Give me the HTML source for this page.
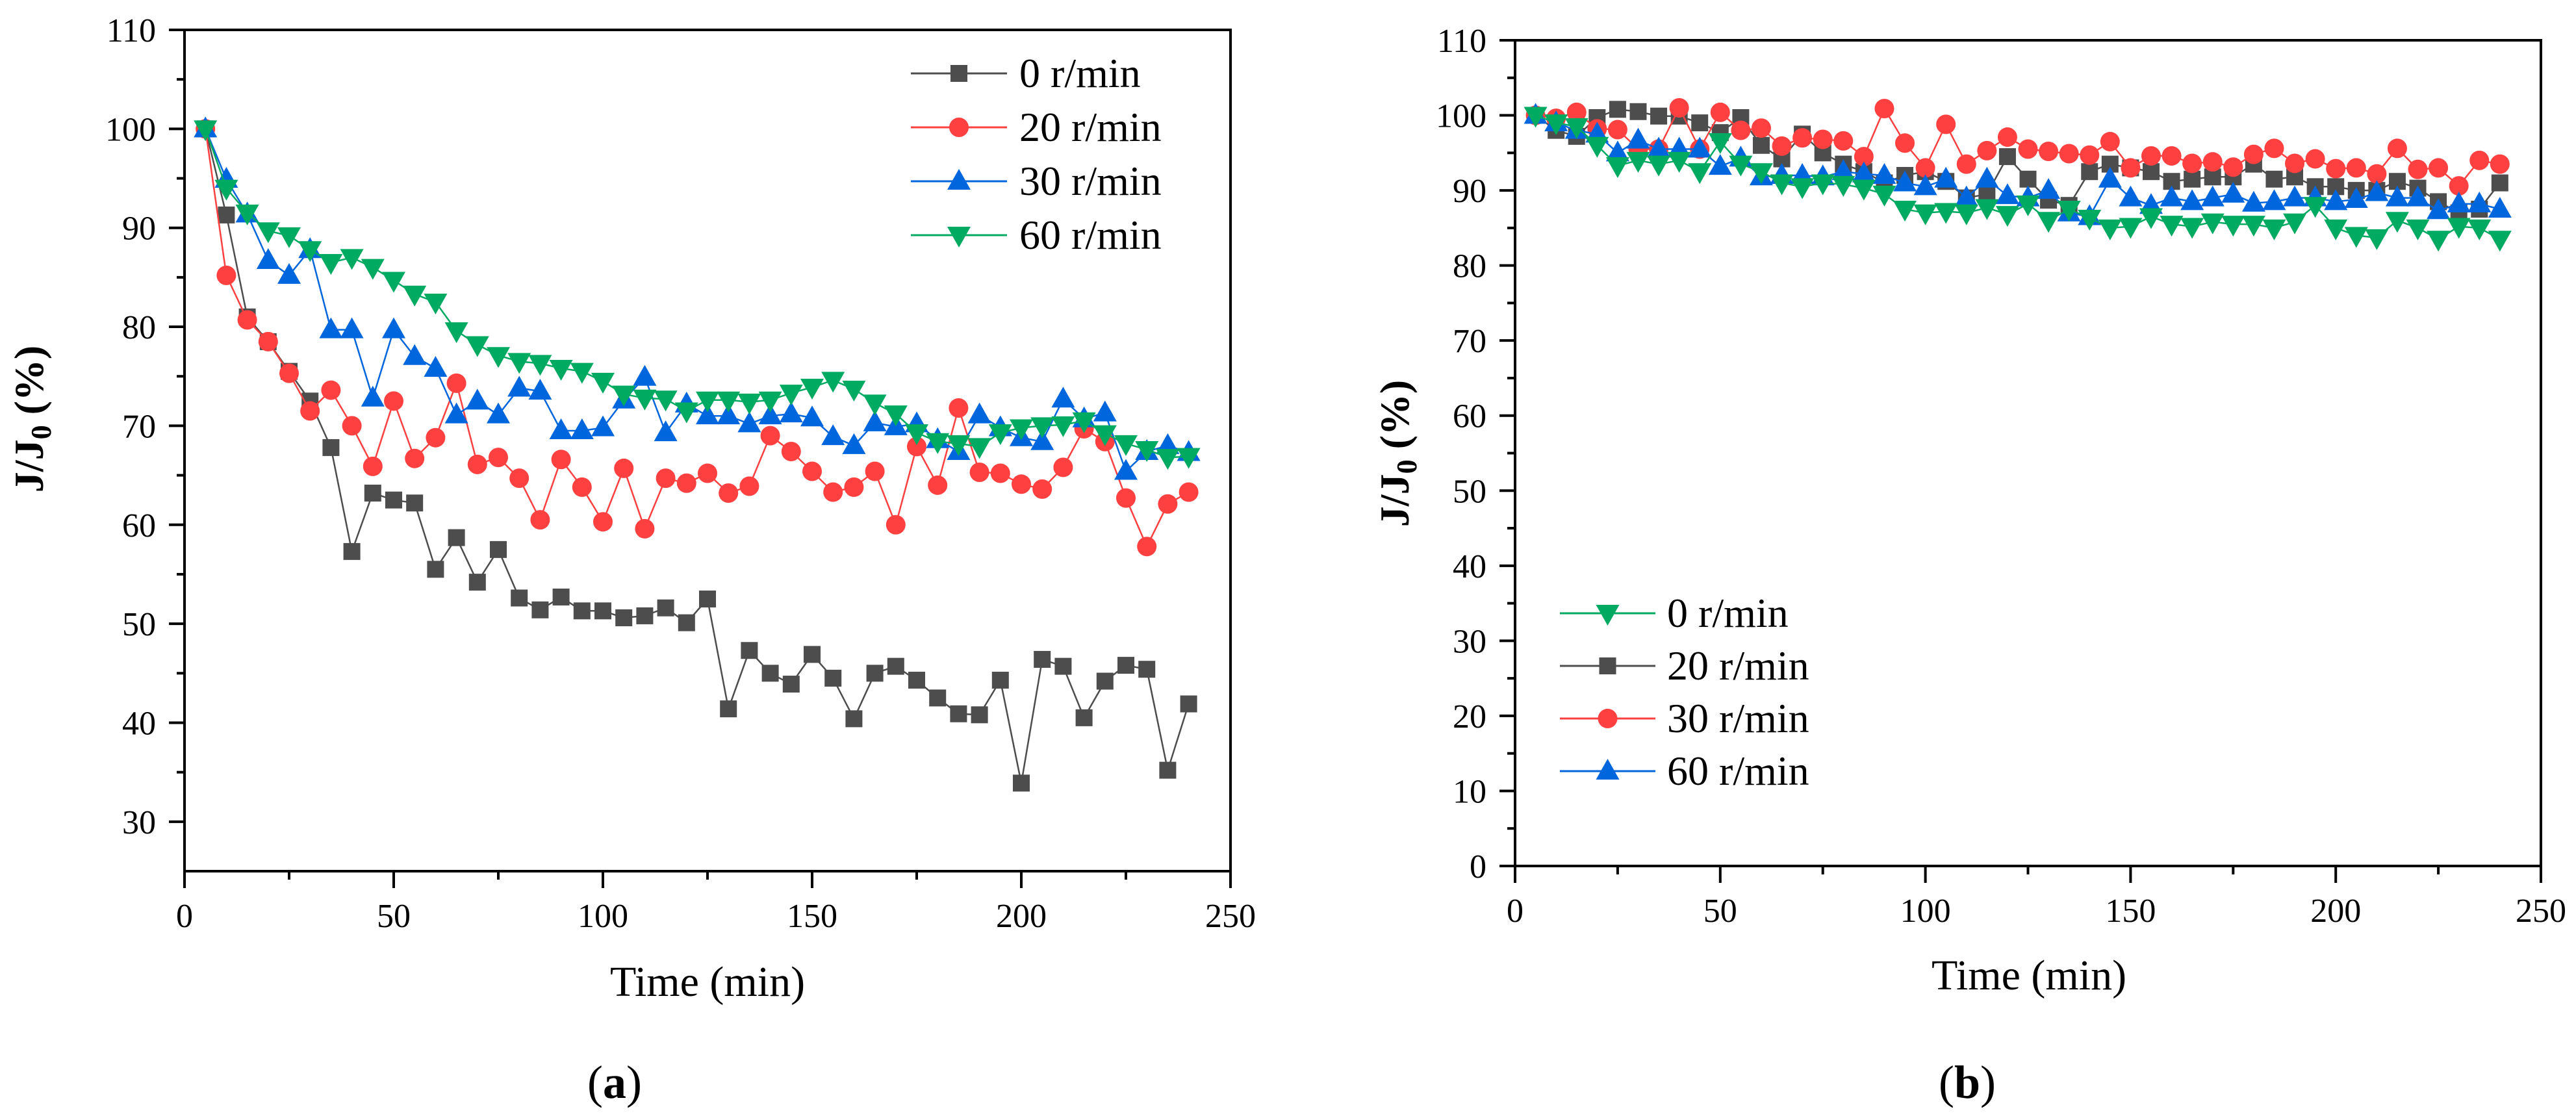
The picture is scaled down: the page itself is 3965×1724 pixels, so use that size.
<!DOCTYPE html>
<html><head><meta charset="utf-8"><style>
body{margin:0;background:#fff}
svg{display:block}
text{font-family:"Liberation Serif",serif;fill:#000}
</style></head><body>
<svg id="chart" width="3965" height="1724" viewBox="0 0 3965 1724" xmlns="http://www.w3.org/2000/svg"></svg>
<script>
const times = [];
for (let t = 5; t <= 240; t += 5) times.push(t);

const a0 = [100,91.3,81,78.5,75.5,72.5,67.8,57.3,63.2,62.5,62.2,55.5,58.7,54.2,57.5,52.6,51.4,52.7,51.3,51.3,50.6,50.8,51.6,50.1,52.5,41.4,47.3,45,43.9,46.9,44.5,40.4,45,45.7,44.3,42.5,40.9,40.8,44.3,33.9,46.4,45.7,40.5,44.2,45.8,45.4,35.2,41.9];
const a20 = [100,85.2,80.7,78.5,75.3,71.5,73.6,70,65.9,72.5,66.7,68.8,74.3,66.1,66.8,64.7,60.5,66.6,63.8,60.3,65.7,59.6,64.7,64.2,65.2,63.2,63.9,69,67.4,65.4,63.3,63.8,65.4,60,67.9,64,71.8,65.3,65.2,64.1,63.6,65.8,69.7,68.4,62.7,57.8,62.1,63.3];
const a30 = [100,94.9,91.4,86.7,85.2,87.8,79.7,79.7,72.8,79.7,77,75.8,71.1,72.5,71.1,73.8,73.5,69.5,69.5,69.8,72.6,74.9,69.3,72.2,71,71,70.2,71,71.2,70.8,68.9,68,70.3,69.9,70.2,68.6,67.4,71.1,69.8,68.8,68.4,72.7,70.7,71.3,65.4,67.4,68,67.3];
const a60 = [100,94,91.5,89.7,89.2,87.8,86.5,87,86,84.7,83.3,82.5,79.6,78.2,77.1,76.5,76.3,75.8,75.5,74.5,73.2,72.8,72.7,71.5,72.6,72.6,72.4,72.6,73.3,73.9,74.6,73.7,72.3,71.2,69.3,68.4,68.2,67.9,69.3,69.8,70,70.1,70.5,69.2,68.2,67.6,66.8,66.9];

const b0 = [100,99,98.5,96,93.3,94,93.5,94,92.5,96.5,93.5,92.5,91,90.5,91,90.8,90.3,89.5,87.5,87,87.2,87,87.7,86.8,88.2,86,87.5,86.3,85,85.2,86.5,85.5,85.2,85.8,85.5,85.5,85,85.8,88,85,84,83.7,86,85,83.5,85.2,85,83.5];
const b20 = [100,98,97.2,99.7,100.8,100.5,99.9,99.9,99,97.7,99.7,96,94.2,97.5,95,93.5,92.5,91,92,92.5,91.2,89,89.5,94.5,91.5,88.7,88,92.5,93.5,93,92.5,91.2,91.5,91.8,91.8,93.5,91.5,91.8,90.5,90.5,90,90,91.2,90.3,88.5,87,87.5,91];
const b30 = [100,99.6,100.4,98.2,98.1,95.5,95.5,101,95.5,100.4,98,98.3,95.9,97,96.8,96.6,94.5,100.9,96.3,93,98.8,93.5,95.3,97.1,95.5,95.2,94.9,94.7,96.5,93,94.6,94.6,93.6,93.8,93.1,94.8,95.6,93.6,94.2,92.9,93,92.2,95.6,92.8,93,90.6,94,93.5];
const b60 = [100,99,98,97.5,95,96.7,95.5,95.5,95.5,93.2,94.3,91.8,92,92,91.8,92.5,92.2,92,91,90.5,91.5,89,91.5,89.3,89,90,87,86.5,91.5,89,88,89,88.5,89,89.5,88.3,88.5,89,89,88.5,88.8,89.7,89,89,87.3,88.2,88.2,87.5];

const xTicksA = [0,50,100,150,200,250];
const yTicksA = [30,40,50,60,70,80,90,100,110];
const yTicksB = [0,10,20,30,40,50,60,70,80,90,100,110];
const labelsA = ["0 r/min","20 r/min","30 r/min","60 r/min"];
const labelsB = ["0 r/min","20 r/min","30 r/min","60 r/min"];

const NS = "http://www.w3.org/2000/svg";
const svg = document.getElementById('chart');
const COL = {k:'#4d4d4d', r:'#ff4040', b:'#0066dd', g:'#00aa60'};

function mk(tag, attrs, parent){
  const e = document.createElementNS(NS, tag);
  for (const k in attrs) e.setAttribute(k, attrs[k]);
  (parent||svg).appendChild(e);
  return e;
}
function marker(g, shape, cx, cy, color){
  let e;
  if (shape==='sq'){ e = mk('rect',{x:cx-13,y:cy-13,width:26,height:26,fill:color},g); }
  else if (shape==='ci'){ e = mk('circle',{cx:cx,cy:cy,r:15,fill:color},g); }
  else if (shape==='up'){ e = mk('polygon',{points:`${cx},${cy-19} ${cx-18},${cy+13} ${cx+18},${cy+13}`,fill:color},g); }
  else { e = mk('polygon',{points:`${cx},${cy+19} ${cx-18},${cy-13} ${cx+18},${cy-13}`,fill:color},g); }
  return e;
}

function panel(cfg){
  const {L,R,T,B,xmin,xmax,ymin,ymax,yTicks,yMinor,series,legend,name} = cfg;
  const X = v => L + (v - xmin)/(xmax - xmin)*(R - L);
  const Y = v => B - (v - ymin)/(ymax - ymin)*(B - T);
  const g = mk('g',{});
  
  
  // series
  series.forEach(s => {
    const sg = mk('g',{},g);
    
    
    const pts = times.map((t,i)=>X(t).toFixed(1)+','+Y(s.vals[i]).toFixed(1)).join(' ');
    const pl = mk('polyline',{points:pts,fill:'none',stroke:s.color,'stroke-width':2.5},sg);
    
    
    times.forEach((t,i)=>{
      const m = marker(sg, s.shape, X(t), Y(s.vals[i]), s.color);
      
      
    });
  });
  // frame
  const fr = mk('rect',{x:L,y:T,width:R-L,height:B-T,fill:'none',stroke:'#000','stroke-width':4},g);
  
  
  // x ticks
  xTicksA.forEach(v=>{
    mk('line',{x1:X(v),y1:B,x2:X(v),y2:B+26,stroke:'#000','stroke-width':4},g);
    const tx = mk('text',{x:X(v),y:B+86,'font-size':52,'text-anchor':'middle'},g);
    tx.textContent = v;
    
    
  });
  for (let v=25; v<xmax; v+=50) mk('line',{x1:X(v),y1:B,x2:X(v),y2:B+13,stroke:'#000','stroke-width':4},g);
  // y ticks
  yTicks.forEach(v=>{
    mk('line',{x1:L-24,y1:Y(v),x2:L,y2:Y(v),stroke:'#000','stroke-width':4},g);
    const tx = mk('text',{x:L-44,y:Y(v)+18,'font-size':52,'text-anchor':'end'},g);
    tx.textContent = v;
    
    
  });
  yMinor.forEach(v=> mk('line',{x1:L-12,y1:Y(v),x2:L,y2:Y(v),stroke:'#000','stroke-width':4},g));
  // legend
  legend.items.forEach((it,i)=>{
    const lg = mk('g',{},g);
    
    
    const yy = legend.y0 + i*legend.dy;
    mk('line',{x1:legend.x1,y1:yy,x2:legend.x2,y2:yy,stroke:it.color,'stroke-width':3},lg);
    marker(lg, it.shape, (legend.x1+legend.x2)/2, yy, it.color);
    const tx = mk('text',{x:legend.tx,y:yy+21,'font-size':64},lg);
    tx.textContent = it.label;
  });
  return {X,Y};
}

const yMinorA=[]; for(let v=35; v<110; v+=10) yMinorA.push(v);
const yMinorB=[]; for(let v=5; v<110; v+=10) yMinorB.push(v);

panel({name:'panel-a',L:284,R:1894,T:46,B:1341,xmin:0,xmax:250,ymin:25,ymax:110,yTicks:yTicksA,yMinor:yMinorA,
  series:[{id:'a-0',vals:a0,color:COL.k,shape:'sq'},{id:'a-20',vals:a20,color:COL.r,shape:'ci'},{id:'a-30',vals:a30,color:COL.b,shape:'up'},{id:'a-60',vals:a60,color:COL.g,shape:'dn'}],
  legend:{x1:1402,x2:1550,tx:1569,y0:113,dy:83,items:[
    {label:labelsA[0],color:COL.k,shape:'sq'},{label:labelsA[1],color:COL.r,shape:'ci'},{label:labelsA[2],color:COL.b,shape:'up'},{label:labelsA[3],color:COL.g,shape:'dn'}]}});

panel({name:'panel-b',L:2332,R:3911,T:62,B:1333,xmin:0,xmax:250,ymin:0,ymax:110,yTicks:yTicksB,yMinor:yMinorB,
  series:[{id:'b-20',vals:b20,color:COL.k,shape:'sq'},{id:'b-30',vals:b30,color:COL.r,shape:'ci'},{id:'b-60',vals:b60,color:COL.b,shape:'up'},{id:'b-0',vals:b0,color:COL.g,shape:'dn'}],
  legend:{x1:2401,x2:2548,tx:2566,y0:944,dy:81,items:[
    {label:labelsB[0],color:COL.g,shape:'dn'},{label:labelsB[1],color:COL.k,shape:'sq'},{label:labelsB[2],color:COL.r,shape:'ci'},{label:labelsB[3],color:COL.b,shape:'up'}]}});
</script>
<svg style="position:absolute;left:0;top:0" width="3965" height="1724">
  <text x="1089" y="1533" font-size="66" text-anchor="middle">Time (min)</text>
  <text transform="translate(66,645) rotate(-90)" font-size="64" font-weight="bold" text-anchor="middle">J/J<tspan font-size="44" dy="12">0</tspan><tspan dy="-12"> (%)</tspan></text>
  <text x="946" y="1690" font-size="72" text-anchor="middle">(<tspan font-weight="bold">a</tspan>)</text>
  <text x="3123" y="1523" font-size="66" text-anchor="middle">Time (min)</text>
  <text transform="translate(2168,698) rotate(-90)" font-size="64" font-weight="bold" text-anchor="middle">J/J<tspan font-size="44" dy="12">0</tspan><tspan dy="-12"> (%)</tspan></text>
  <text x="3028" y="1690" font-size="72" text-anchor="middle">(<tspan font-weight="bold">b</tspan>)</text>
</svg>
</body></html>
